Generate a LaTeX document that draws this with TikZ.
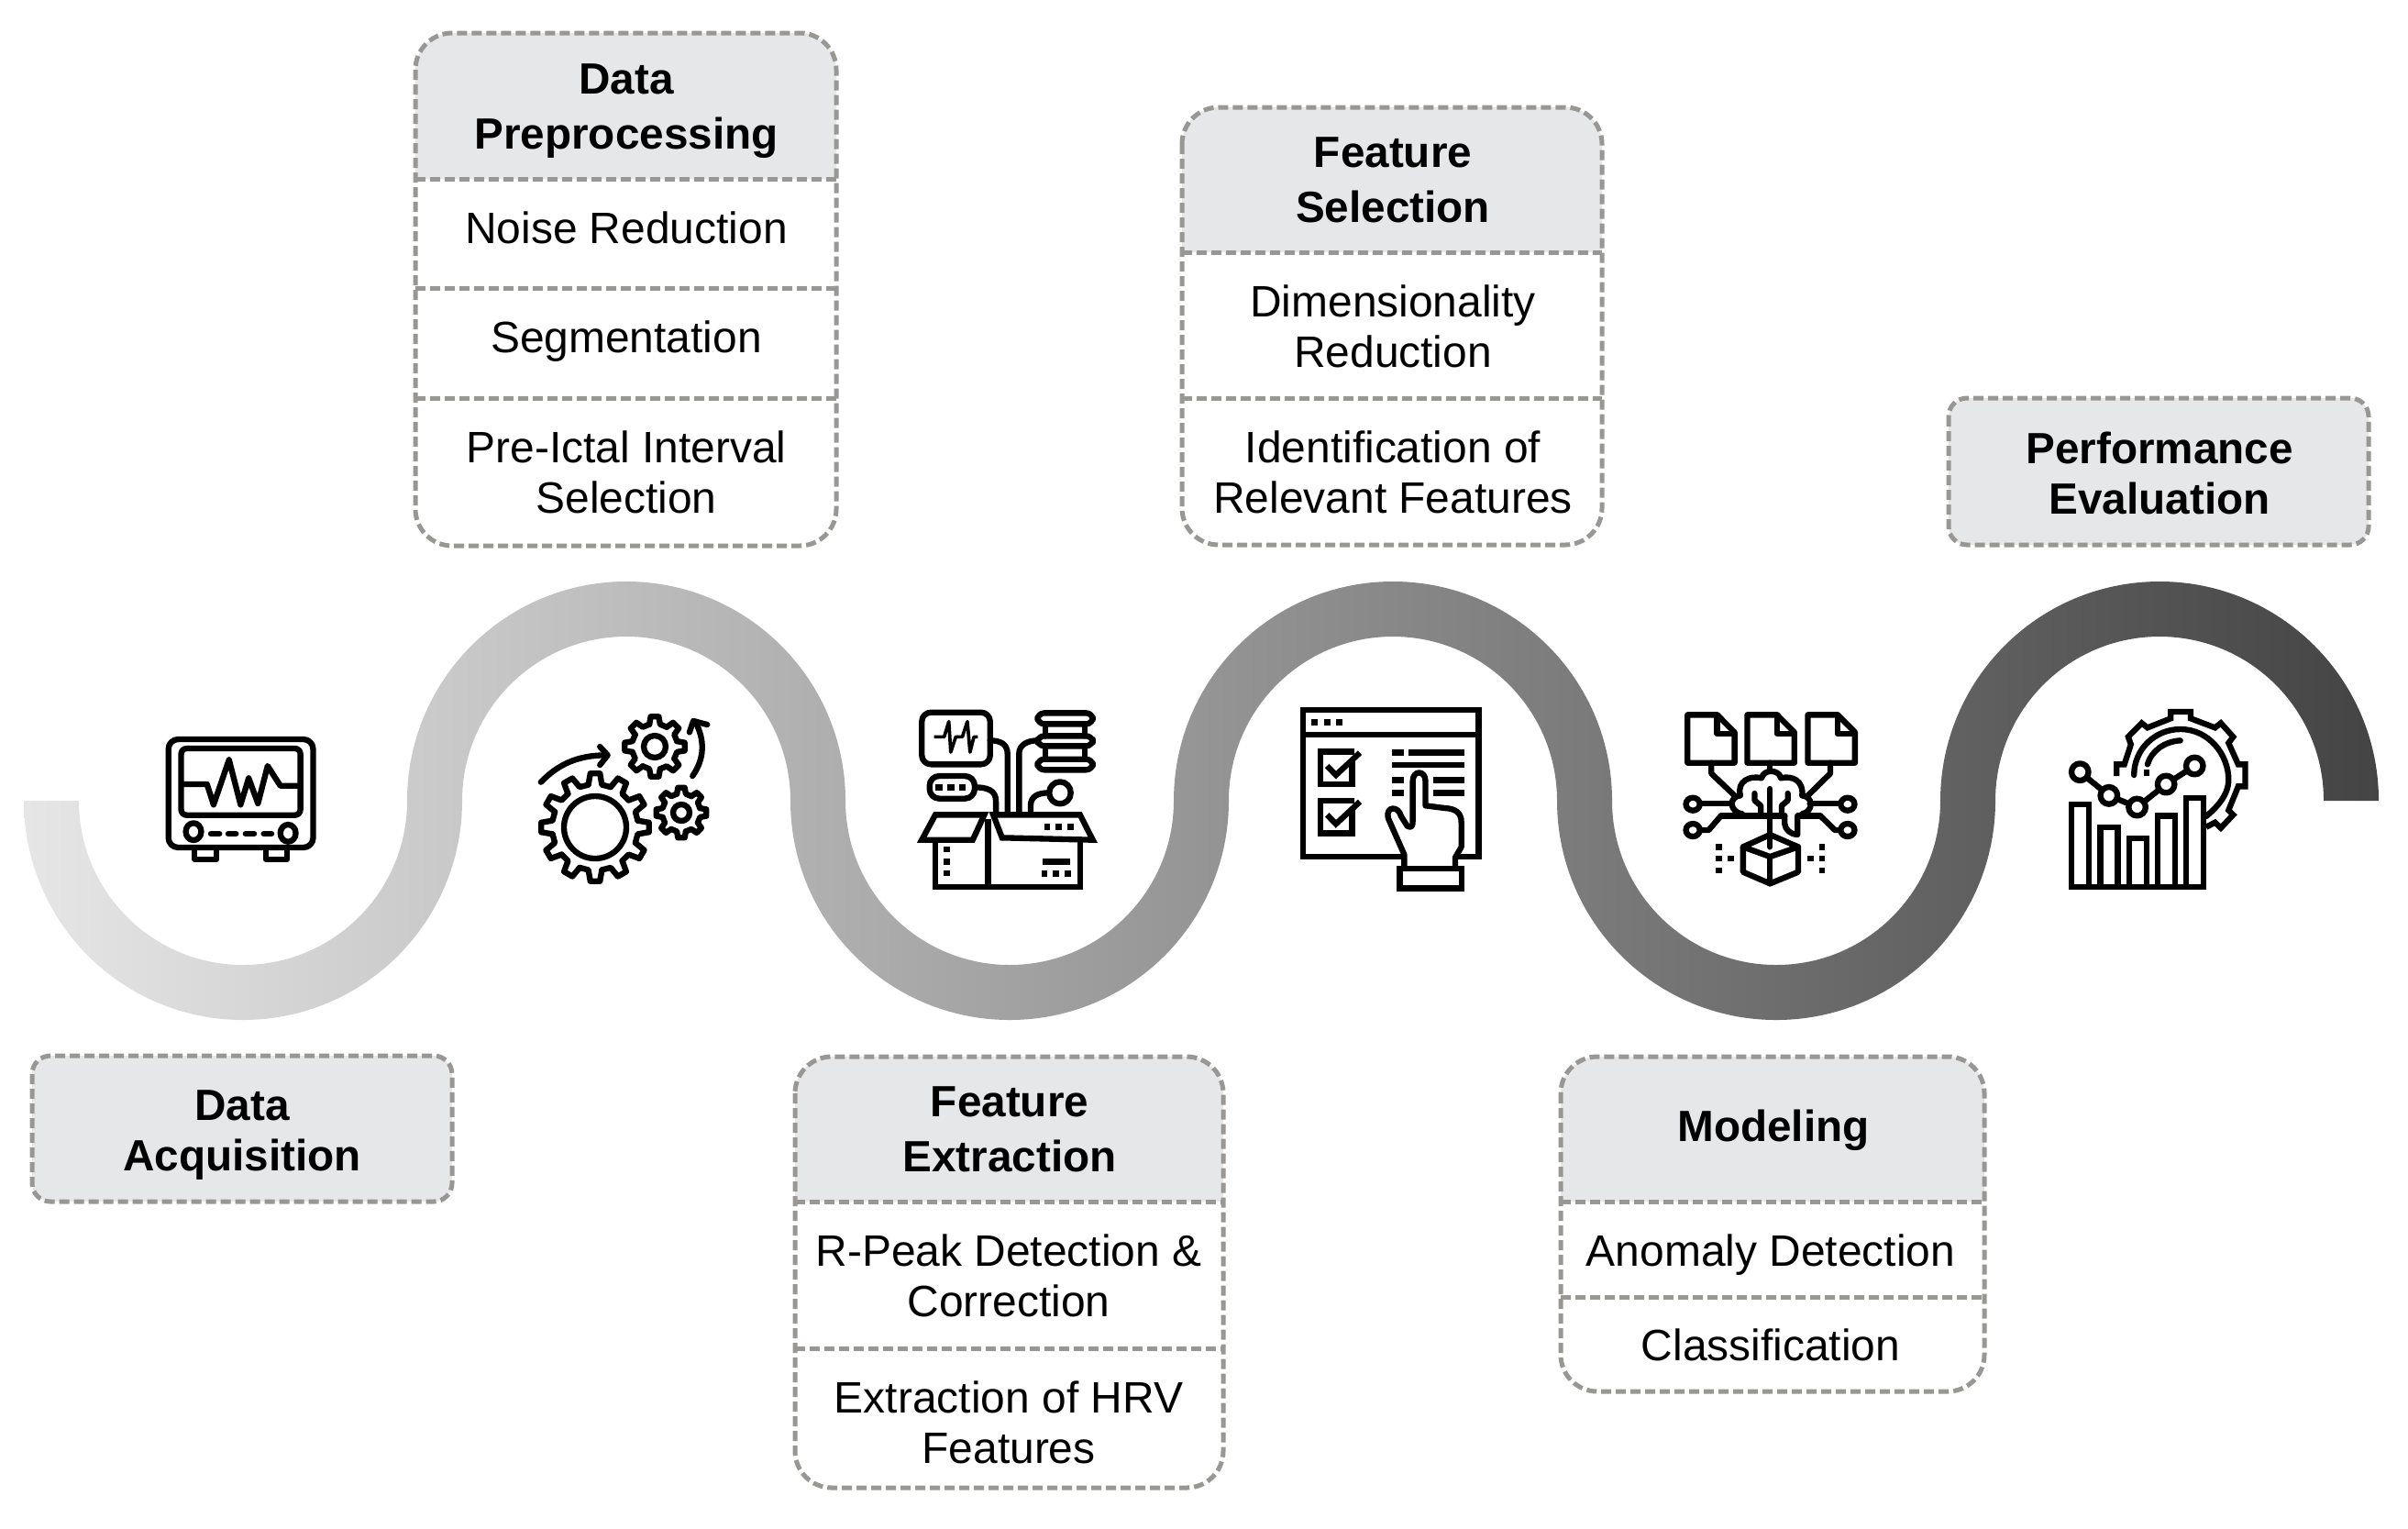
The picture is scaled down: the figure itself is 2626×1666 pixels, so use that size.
\documentclass[tikz,border=0pt]{standalone}
\usepackage{fontspec}
\setmainfont{Liberation Sans}
\definecolor{headgray}{HTML}{E6E7E8}
\definecolor{dashgray}{HTML}{999794}
\definecolor{ribL}{HTML}{E6E6E6}
\definecolor{ribR}{HTML}{444444}
\tikzset{
  cardline/.style={draw=dashgray,line width=1.5pt,dash pattern=on 3.3pt off 1.5pt},
  headfill/.style={fill=headgray},
  bodytext/.style={font=\fontsize{14.38}{16.5}\selectfont,align=center,anchor=base,inner sep=0pt,text=black},
  headtext/.style={font=\fontsize{14.3}{18}\selectfont\bfseries,align=center,anchor=base,inner sep=0pt,text=black},
  headtextb/.style={font=\fontsize{14.3}{16.5}\selectfont\bfseries,align=center,anchor=base,inner sep=0pt,text=black},
  ic/.style={draw=black,line width=1.9pt,line join=round,line cap=round},
  icb/.style={draw=black,line width=1.9pt,line join=miter,line cap=butt},
  icthin/.style={draw=black,line width=1.1pt,line join=round},
  zoomed/.style={x=0.12626pt,y=-0.1pt},
}
% #1 x1, #2 x2, #3 y1, #4 header bottom, #5 y2, #6 radius (pt)
\newcommand{\cardbox}[6]{%
  \fill[headfill] (#1,#4) [rounded corners=#6pt] -- (#1,#3) -- (#2,#3) [sharp corners] -- (#2,#4) -- cycle;
  \draw[cardline,rounded corners=#6pt] (#1,#3) rectangle (#2,#5);
  \draw[cardline] (#1,#4) -- (#2,#4);
}
\newcommand{\headonly}[5]{%
  \fill[headfill,rounded corners=#5pt] (#1,#3) rectangle (#2,#4);
  \draw[cardline,rounded corners=#5pt] (#1,#3) rectangle (#2,#4);
}
\newcommand{\gearicon}[6]{%
  \begin{scope}[shift={(#1,#2)}]
    \pgfmathsetmacro{\pitch}{360/#5}
    \foreach \i in {1,...,#5}{
      \pgfmathsetmacro{\ta}{\i*\pitch-90-0.30*\pitch}
      \pgfmathsetmacro{\tb}{\i*\pitch-90-0.17*\pitch}
      \pgfmathsetmacro{\tc}{\i*\pitch-90+0.17*\pitch}
      \pgfmathsetmacro{\td}{\i*\pitch-90+0.30*\pitch}
      \pgfmathsetmacro{\te}{\i*\pitch-90+0.70*\pitch}
      \draw[ic] (\ta:#4) -- (\tb:#3) -- (\tc:#3) -- (\td:#4) -- (\te:#4);
    }
    \draw[ic] (0,0) circle[radius=#6];
  \end{scope}
}
\newcommand{\docicon}[1]{%
  \begin{scope}[xshift=#1*0.12626pt]
    \draw[ic] (48,88) -- (125,88) -- (170,145) -- (170,245) -- (48,245) -- cycle;
    \draw[ic] (125,88) -- (125,150) -- (170,150);
  \end{scope}
}
\begin{document}
\begin{tikzpicture}[x=0.3pt,y=-0.3pt]
\useasboundingbox (0,0) rectangle (2626,1666);

% ribbon
\path[left color=ribL,right color=ribR]
  (26,873)
  arc[start angle=180,end angle=0,radius=239]
  arc[start angle=180,end angle=360,radius=179]
  arc[start angle=180,end angle=0,radius=239]
  arc[start angle=180,end angle=360,radius=179]
  arc[start angle=180,end angle=0,radius=239]
  arc[start angle=180,end angle=360,radius=179]
  -- (2594,873)
  arc[start angle=360,end angle=180,radius=239]
  arc[start angle=0,end angle=180,radius=179]
  arc[start angle=360,end angle=180,radius=239]
  arc[start angle=0,end angle=180,radius=179]
  arc[start angle=360,end angle=180,radius=239]
  arc[start angle=0,end angle=180,radius=179]
  -- cycle;

% cards
\headonly{35}{493}{1151}{1310}{6}
\node[headtextb] (acq) at (264,1276) {Data\\Acquisition};

\cardbox{453}{912}{36}{195}{595}{12}
\draw[cardline] (453,314) -- (912,314);
\draw[cardline] (453,434) -- (912,434);
\node[headtext] (prep) at (683,162) {Data\\Preprocessing};
\node[bodytext] (noise) at (683,265) {Noise Reduction};
\node[bodytext] (seg) at (683,384) {Segmentation};
\node[bodytext] (preictal) at (683,559) {Pre-Ictal Interval\\Selection};

\cardbox{867}{1334}{1152}{1310}{1622}{12}
\draw[cardline] (867,1470) -- (1334,1470);
\node[headtext] (fext) at (1101,1277) {Feature\\Extraction};
\node[bodytext] (rpeak) at (1100,1435) {R-Peak Detection \&\\Correction};
\node[bodytext] (hrv) at (1100,1595) {Extraction of HRV\\Features};

\cardbox{1289}{1747}{117}{275}{594}{12}
\draw[cardline] (1289,434) -- (1747,434);
\node[headtext] (fsel) at (1519,242) {Feature\\Selection};
\node[bodytext] (dim) at (1519,400) {Dimensionality\\Reduction};
\node[bodytext] (ident) at (1519,559) {Identification of\\Relevant Features};

\cardbox{1702}{2164}{1152}{1310}{1517}{12}
\draw[cardline] (1702,1414) -- (2164,1414);
\node[headtext] (model) at (1934,1244) {Modeling};
\node[bodytext] (anom) at (1931,1380) {Anomaly Detection};
\node[bodytext] (class) at (1931,1483) {Classification};

\headonly{2125}{2583}{434}{594}{6}
\node[headtextb] (perf) at (2355,560) {Performance\\Evaluation};

% icon 1: monitor
\begin{scope}[shift={(150,740)},zoomed]
  \draw[ic,rounded corners=3.2pt] (80,198) rectangle (455,552);
  \draw[ic,rounded corners=1.8pt] (113,228) rectangle (422,446);
  \draw[ic] (118,345) -- (180,345) -- (197,412) -- (237,265) -- (267,412) -- (288,325) -- (312,408) -- (337,285) -- (370,350) -- (420,350);
  \draw[ic] (145,500) ellipse[x radius=20,y radius=28];
  \draw[ic] (390,505) ellipse[x radius=20,y radius=28];
  \foreach \a/\b in {190/212,235/255,280/302,327/347}{\draw[ic] (\a,507) -- (\b,507);}
  \draw[ic] (148,555) -- (148,590) -- (205,590) -- (205,555);
  \draw[ic] (332,555) -- (332,590) -- (388,590) -- (388,555);
\end{scope}

% icon 2: gears
\gearicon{649}{902}{59}{47}{12}{34}
\gearicon{714}{814}{33}{25}{8}{12}
\gearicon{743}{886}{27.5}{21}{8}{9}
\begin{scope}[shift={(150,740)},zoomed]
  \draw[ic] (1045,338) .. controls (1090,280) and (1140,250) .. (1215,250);
  \draw[ic] (1198,222) -- (1218,250) -- (1198,282);
  \draw[ic] (1438,318) .. controls (1470,260) and (1470,200) .. (1445,140);
  \draw[ic] (1476,150) -- (1440,138) -- (1430,175);
\end{scope}

% icon 3: box with data
\begin{scope}[shift={(980,750)},zoomed]
  \draw[ic,rounded corners=3pt] (60,80) rectangle (237,250);
  \draw[icthin] (92,160) -- (118,160) -- (130,110) -- (135,210) -- (148,160) -- (165,160) -- (178,110) -- (185,210) -- (195,160) -- (205,160);
  \draw[ic,rounded corners=2.2pt] (360,82) rectangle (503,118);
  \draw[ic,rounded corners=2.2pt] (360,157) rectangle (503,190);
  \draw[ic,rounded corners=2.2pt] (360,233) rectangle (503,268);
  \foreach \p in {380,482}{
    \draw[ic] (\p,118) -- (\p,157);
    \draw[ic] (\p,190) -- (\p,233);
  }
  \draw[ic] (237,172) .. controls (265,172) and (282,185) .. (282,215) -- (282,410);
  \draw[ic] (360,172) .. controls (335,172) and (312,185) .. (312,215) -- (312,410);
  \draw[ic,rounded corners=3.2pt] (80,288) rectangle (197,362);
  \foreach \p in {105,135,165}{\fill (\p-9,316) rectangle (\p+9,336);}
  \draw[ic] (197,325) .. controls (230,325) and (252,335) .. (252,370) -- (252,410);
  \draw[ic] (418,343) ellipse[x radius=28,y radius=36];
  \draw[ic] (390,343) .. controls (360,343) and (342,355) .. (342,385) -- (342,410);
  \draw[icb] (95,415) -- (60,497) -- (192,497) -- (222,415) -- cycle;
  \draw[icb] (245,415) -- (268,490) -- (503,497) -- (470,415) -- cycle;
  \draw[icb] (95,497) -- (95,650) -- (470,650) -- (470,497);
  \draw[icb] (232,430) -- (232,650);
  \foreach \p in {528,568,606}{\fill (117,\p-10) rectangle (134,\p+10);}
  \foreach \p in {385,415,445}{\fill (\p-8,445) rectangle (\p+8,466);}
  \foreach \p in {378,408,438}{\fill (\p-8,596) rectangle (\p+8,617);}
  \fill (372,558) rectangle (445,578);
\end{scope}

% icon 4: checklist window
\begin{scope}[shift={(980,750)},zoomed]
  \draw[icb] (1048,72) rectangle (1503,552);
  \draw[icb] (1048,152) -- (1503,152);
  \foreach \p in {1078,1110,1142}{\fill (\p-8,102) rectangle (\p+8,122);}
  \foreach \q in {0,160}{
    \draw[icb] (1180,208+\q) -- (1093,208+\q) -- (1093,315+\q) -- (1175,315+\q) -- (1175,240+\q);
    \draw[icb] (1110,255+\q) -- (1133,285+\q) -- (1195,212+\q);
  }
  \fill (1278,202) rectangle (1308,222);
  \fill (1322,202) rectangle (1465,222);
  \fill (1278,242) rectangle (1465,262);
  \fill (1278,292) rectangle (1308,312);
  \fill (1385,292) rectangle (1465,312);
  \fill (1278,333) rectangle (1308,353);
  \fill (1385,333) rectangle (1465,353);
  \draw[ic,fill=white] (1310,595) -- (1310,545) -- (1268,425) .. controls (1262,385) and (1295,385) .. (1302,420) -- (1318,452) .. controls (1330,460) and (1332,450) .. (1332,435) -- (1332,305) .. controls (1332,268) and (1365,268) .. (1365,305) -- (1365,385) -- (1415,393) .. controls (1445,395) and (1458,410) .. (1458,440) -- (1458,520) -- (1442,555) -- (1442,595);
  \draw[icb,fill=white] (1298,590) rectangle (1458,655);
\end{scope}

% icon 5: brain / documents
\begin{scope}[shift={(1820,750)},zoomed]
  \docicon{0}
  \docicon{155}
  \docicon{312}
  \draw[ic] (110,245) -- (110,280) -- (170,352);
  \draw[ic] (262,245) -- (262,272);
  \draw[ic] (418,245) -- (418,280) -- (360,352);
  \draw[ic] (190,412) .. controls (155,405) and (155,355) .. (185,352) .. controls (175,305) and (210,285) .. (240,295) .. controls (245,265) and (285,265) .. (290,295) .. controls (320,285) and (350,305) .. (345,352) .. controls (375,355) and (375,405) .. (345,412);
  \draw[ic] (135,418) -- (300,418);
  \draw[ic] (335,418) -- (392,418);
  \draw[ic] (300,418) -- (300,445) .. controls (302,465) and (315,478) .. (333,480) -- (333,418);
  \draw[ic] (262,330) -- (262,520);
  \draw[ic] (222,345) -- (222,368) -- (238,385) -- (238,412);
  \draw[ic] (308,345) -- (308,368) -- (292,385) -- (292,412);
  \draw[ic] (160,378) -- (85,378);
  \draw[ic] (365,378) -- (440,378);
  \draw[ic] (135,418) -- (103,465) -- (85,465);
  \draw[ic] (392,418) -- (430,465) -- (442,465);
  \foreach \px/\py in {62/380,62/465,463/380,463/465}{\draw[ic] (\px,\py) ellipse[x radius=18,y radius=21];}
  \draw[ic] (262,480) -- (335,520) -- (335,602) -- (262,640) -- (192,602) -- (192,520) -- cycle;
  \draw[ic] (192,520) -- (262,552) -- (335,520);
  \draw[ic] (262,552) -- (262,640);
  \foreach \px/\py in {130/520,130/558,160/558,130/597,397/520,397/558,367/558,397/597}{\fill (\px-8,\py-10) rectangle (\px+8,\py+10);}
\end{scope}

% icon 6: chart with gear
\begin{scope}[shift={(1820,750)},zoomed]
  \draw[icb] (1035,650) -- (1392,650);
  \draw[icb] (1043,650) -- (1043,380) -- (1088,380) -- (1088,650);
  \draw[icb] (1118,650) -- (1118,455) -- (1163,455) -- (1163,650);
  \draw[icb] (1192,650) -- (1192,492) -- (1238,492) -- (1238,650);
  \draw[icb] (1266,650) -- (1266,418) -- (1312,418) -- (1312,650);
  \draw[icb] (1340,650) -- (1340,360) -- (1385,360) -- (1385,650);
  \draw[ic] (1065,275) -- (1140,352) -- (1213,390) -- (1288,315) -- (1362,255);
  \foreach \px/\py in {1065/275,1140/352,1213/390,1288/315,1362/255}{\draw[ic,fill=white] (\px,\py) ellipse[x radius=22,y radius=28];}
  \draw[ic] (1205,285) .. controls (1205,200) and (1260,135) .. (1325,135) .. controls (1400,135) and (1450,220) .. (1450,300) .. controls (1450,350) and (1420,390) .. (1392,420);
  \draw[ic] (1240,250) .. controls (1250,205) and (1285,175) .. (1325,172);
  \fill (1230,268) rectangle (1246,288);
  \draw[icb] (1160,288) -- (1160,250) -- (1180,250) -- (1197,185) -- (1190,160) -- (1225,115) -- (1240,130) -- (1300,100) -- (1300,78) -- (1352,78) -- (1352,100) -- (1415,130) -- (1430,115) -- (1462,160) -- (1450,180) -- (1475,250) -- (1493,250) -- (1493,322) -- (1475,322) -- (1450,400) -- (1462,415) -- (1430,458) -- (1415,440) -- (1392,455);
\end{scope}
\end{tikzpicture}
\end{document}
